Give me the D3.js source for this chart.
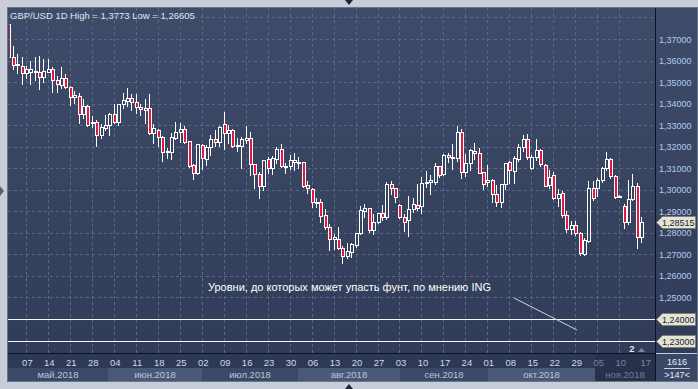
<!DOCTYPE html>
<html>
<head>
<meta charset="utf-8">
<script src="https://cdn.jsdelivr.net/npm/d3@7"></script>
<style>
  body { margin: 0; background: #c7ced9; }
  svg { display: block; font-family: "Liberation Sans", Arial, sans-serif; }
</style>
</head>
<body>
<svg id="chart" width="698" height="389"></svg>
<script>
// GBP/USD daily candles, 1 May 2018 .. 16 Nov 2018 (index = trading bar)
const open = [
  1.3768,1.3618,1.3578,1.3576,1.3541,1.3548,1.3546,1.3548,1.3522,1.3548,
  1.3561,1.3510,1.3486,1.3520,1.3479,1.3429,1.3435,1.3350,1.3390,1.3310,
  1.3313,1.3254,1.3285,1.3301,1.3353,1.3313,1.3397,1.3414,1.3425,1.3409,
  1.3386,1.3370,1.3378,1.3262,1.3278,1.3247,1.3175,1.3173,1.3242,1.3270,
  1.3281,1.3226,1.3115,1.3079,1.3208,1.3141,1.3197,1.3234,1.3223,1.3305,
  1.3262,1.3278,1.3205,1.3205,1.3231,1.3239,1.3118,1.3072,1.3018,1.3141,
  1.3102,1.3143,1.3189,1.3110,1.3112,1.3130,1.3127,1.3130,1.3022,1.3004,
  1.2945,1.2942,1.2883,1.2829,1.2770,1.2770,1.2728,1.2693,1.2713,1.2744,
  1.2798,1.2903,1.2914,1.2811,1.2849,1.2891,1.2872,1.3025,1.3007,1.2929,
  1.2875,1.2860,1.2911,1.2929,1.2925,1.3030,1.3035,1.3038,1.3110,1.3073,
  1.3161,1.3151,1.3146,1.3267,1.3081,1.3126,1.3181,1.3169,1.3084,1.3035,
  1.3045,1.2978,1.2945,1.3025,1.3130,1.3089,1.3143,1.3197,1.3234,1.3100,
  1.3151,1.3185,1.3115,1.3022,1.3069,1.2963,1.2983,1.2883,1.2817,1.2836,
  1.2798,1.2702,1.2764,1.3007,1.3007,1.3045,1.3100,1.3141,1.3064,1.2973,
  1.2926,1.2852,1.2957,1.3018,1.2779
];
const high = [
  1.3773,1.3672,1.3636,1.3622,1.3579,1.3602,1.3622,1.3626,1.3610,1.3613,
  1.3576,1.3533,1.3576,1.3541,1.3486,1.3463,1.3452,1.3425,1.3397,1.3347,
  1.3329,1.3309,1.3350,1.3362,1.3401,1.3404,1.3452,1.3476,1.3448,1.3448,
  1.3401,1.3425,1.3448,1.3309,1.3285,1.3254,1.3200,1.3270,1.3319,1.3316,
  1.3301,1.3231,1.3126,1.3216,1.3216,1.3211,1.3259,1.3282,1.3301,1.3366,
  1.3305,1.3285,1.3247,1.3250,1.3301,1.3273,1.3126,1.3087,1.3141,1.3157,
  1.3161,1.3205,1.3216,1.3130,1.3165,1.3177,1.3155,1.3133,1.3045,1.3012,
  1.2968,1.2960,1.2914,1.2844,1.2801,1.2832,1.2744,1.2759,1.2759,1.2806,
  1.2929,1.2937,1.2922,1.2891,1.2898,1.2934,1.3041,1.3045,1.3012,1.2940,
  1.2891,1.2976,1.2968,1.3030,1.3064,1.3092,1.3073,1.3130,1.3115,1.3169,
  1.3177,1.3219,1.3301,1.3285,1.3169,1.3196,1.3220,1.3200,1.3089,1.3120,
  1.3053,1.3027,1.3030,1.3130,1.3138,1.3161,1.3219,1.3259,1.3265,1.3165,
  1.3239,1.3193,1.3123,1.3095,1.3085,1.3010,1.3000,1.2905,1.2860,1.2860,
  1.2810,1.2780,1.3045,1.3045,1.3061,1.3110,1.3180,1.3150,1.3073,1.2980,
  1.2940,1.3049,1.3079,1.3038,1.2878
];
const low = [
  1.3612,1.3559,1.3541,1.3490,1.3518,1.3490,1.3508,1.3468,1.3502,1.3545,
  1.3455,1.3455,1.3474,1.3471,1.3394,1.3401,1.3309,1.3332,1.3296,1.3293,
  1.3205,1.3239,1.3278,1.3254,1.3309,1.3301,1.3378,1.3390,1.3370,1.3358,
  1.3347,1.3311,1.3258,1.3216,1.3205,1.3134,1.3146,1.3141,1.3234,1.3223,
  1.3219,1.3107,1.3050,1.3073,1.3096,1.3115,1.3161,1.3203,1.3203,1.3189,
  1.3219,1.3200,1.3180,1.3102,1.3216,1.3069,1.3010,1.2960,1.2999,1.3079,
  1.3073,1.3123,1.3104,1.3079,1.3096,1.3092,1.3100,1.3012,1.2987,1.2921,
  1.2921,1.2852,1.2817,1.2720,1.2724,1.2724,1.2661,1.2682,1.2690,1.2736,
  1.2795,1.2872,1.2806,1.2795,1.2844,1.2860,1.2863,1.2980,1.2945,1.2868,
  1.2809,1.2785,1.2898,1.2906,1.2894,1.3012,1.2980,1.3027,1.3058,1.3069,
  1.3130,1.3095,1.3135,1.3056,1.3064,1.3092,1.3141,1.3077,1.3002,1.3018,
  1.2942,1.2925,1.2921,1.3002,1.3030,1.3033,1.3134,1.3181,1.3141,1.3095,
  1.3138,1.3110,1.3018,1.3010,1.2955,1.2925,1.2875,1.2805,1.2795,1.2790,
  1.2696,1.2696,1.2758,1.2953,1.2970,1.3037,1.3092,1.3053,1.2960,1.2966,
  1.2824,1.2841,1.2953,1.2728,1.2759
];
const close = [
  1.3618,1.3579,1.3583,1.3541,1.3559,1.3561,1.3550,1.3525,1.3551,1.3561,
  1.3510,1.3490,1.3520,1.3479,1.3432,1.3440,1.3350,1.3390,1.3301,1.3315,
  1.3254,1.3290,1.3301,1.3350,1.3316,1.3397,1.3415,1.3425,1.3409,1.3383,
  1.3374,1.3381,1.3262,1.3285,1.3247,1.3177,1.3178,1.3244,1.3267,1.3281,
  1.3223,1.3112,1.3079,1.3212,1.3146,1.3200,1.3234,1.3223,1.3293,1.3262,
  1.3278,1.3205,1.3210,1.3236,1.3242,1.3118,1.3072,1.3018,1.3138,1.3102,
  1.3146,1.3189,1.3110,1.3107,1.3138,1.3138,1.3125,1.3018,1.3007,1.2945,
  1.2943,1.2880,1.2826,1.2770,1.2779,1.2728,1.2694,1.2717,1.2748,1.2798,
  1.2906,1.2915,1.2811,1.2849,1.2891,1.2872,1.3025,1.3007,1.2965,1.2872,
  1.2852,1.2909,1.2932,1.2914,1.3033,1.3038,1.3045,1.3110,1.3069,1.3161,
  1.3151,1.3148,1.3267,1.3081,1.3126,1.3185,1.3169,1.3079,1.3025,1.3045,
  1.2980,1.2942,1.3025,1.3126,1.3092,1.3146,1.3197,1.3234,1.3154,1.3154,
  1.3185,1.3118,1.3019,1.3060,1.2963,1.2978,1.2883,1.2817,1.2836,1.2798,
  1.2705,1.2767,1.3007,1.2963,1.3045,1.3100,1.3141,1.3064,1.2968,1.2973,
  1.2852,1.2957,1.3018,1.2779,1.28515
];

const priceTicks = [1.37, 1.36, 1.35, 1.34, 1.33, 1.32, 1.31, 1.30, 1.29, 1.28, 1.27, 1.26, 1.25];
const gridPrices = [1.38, 1.37, 1.36, 1.35, 1.34, 1.33, 1.32, 1.31, 1.30, 1.29, 1.28, 1.27, 1.26, 1.25, 1.24, 1.23];
const ingLevels = [1.24, 1.23];
const lastPrice = 1.28515;

const dayLabels = ["07","14","21","28","04","11","18","25","02","09","16","23","30","06","13",
                   "20","27","03","10","17","24","01","08","15","22","29","05","10","17"];
const dayTickIdx = [4,9,14,19,24,29,34,39,44,49,54,59,64,69,74,
                    79,84,89,94,99,104,109,114,119,124,129,134,139,144.7];
const monthLabels = ["май.2018","июн.2018","июл.2018","авг.2018","сен.2018","окт.2018","ноя.2018"];
const monthStartIdx = [-2, 22.6, 43.9, 65.7, 89, 109.1, 133.4];

const title = "GBP/USD 1D High = 1,3773 Low = 1,26605";
const note = "Уровни, до которых может упасть фунт, по мнению ING";

// ── layout ────────────────────────────────────────────────────────────────
const L = 8, R = 655, T = 8, B = 353, AX = 368, FOOT = 381, W = 698;
const fmt = (v) => d3.format(".5f")(v).replace(".", ",");

const x = d3.scaleLinear().domain([4, 144]).range([26.4, 641.7]);
const y = d3.scaleLinear().domain([1.23, 1.37]).range([340.5, 39]);
const px = (i) => Math.floor(x(i)) + 0.5;
const py = (v) => Math.round(y(v)) + 0.5;

const svg = d3.select("#chart");
const defs = svg.append("defs");
const grad = defs.append("linearGradient").attr("id", "bg").attr("x1", 0).attr("y1", 0).attr("x2", 0).attr("y2", 1);
grad.append("stop").attr("offset", 0).attr("stop-color", "#3f4c69");
grad.append("stop").attr("offset", 1).attr("stop-color", "#303c58");
// plot clip starts a little right of the frame: the first bar is cut by the edge
defs.append("clipPath").attr("id", "plot").append("rect")
  .attr("x", L + 1.5).attr("y", T).attr("width", R - L - 1.5).attr("height", B - T);

// frame backgrounds
svg.append("rect").attr("x", 0).attr("y", 0).attr("width", W).attr("height", 389).attr("fill", "#c7ced9");
svg.append("rect").attr("x", L).attr("y", T).attr("width", W - 1 - L).attr("height", B - T).attr("fill", "url(#bg)");
svg.append("rect").attr("x", L).attr("y", B).attr("width", R - L).attr("height", AX - B).attr("fill", "#2e3a55");

// month bands
const monthEnd = monthStartIdx.slice(1).concat([200]);
const bands = svg.append("g");
monthLabels.forEach((m, k) => {
  const x0 = Math.max(L, Math.round(x(monthStartIdx[k])));
  const x1 = Math.min(R, Math.round(x(monthEnd[k])));
  const last = k === monthLabels.length - 1;
  bands.append("rect").attr("x", x0).attr("y", AX).attr("width", x1 - x0).attr("height", FOOT - AX)
    .attr("fill", last ? "#27314b" : (k % 2 ? "#4a5978" : "#3b4966"));
  bands.append("text").attr("x", (x0 + x1) / 2).attr("y", AX + 9.5)
    .attr("text-anchor", "middle").attr("font-size", 9.5)
    .attr("fill", last ? "#6f7d98" : "#b9c6dc").text(m);
});
// darker day row part under the last month
svg.append("rect").attr("x", Math.round(x(monthStartIdx[6]))).attr("y", B + 1)
  .attr("width", R - Math.round(x(monthStartIdx[6]))).attr("height", AX - B - 1).attr("fill", "#27314b");

// day labels
svg.append("g").selectAll("text").data(dayLabels).join("text")
  .attr("x", (d, k) => x(dayTickIdx[k]) + 1).attr("y", B + 12.5)
  .attr("text-anchor", "middle").attr("font-size", 9.5)
  .attr("fill", (d, k) => dayTickIdx[k] > monthStartIdx[6] ? "#7584a0" : "#ccd8ec")
  .text((d) => d);

// grid
const grid = svg.append("g").attr("stroke", "#5a6988").attr("stroke-width", 1)
  .attr("stroke-dasharray", "3,3").attr("shape-rendering", "crispEdges");
grid.selectAll(".h").data(gridPrices).join("line").attr("class", "h")
  .attr("x1", L).attr("x2", R).attr("y1", (d) => py(d)).attr("y2", (d) => py(d));
grid.selectAll(".v").data(dayTickIdx.slice(0, 28)).join("line").attr("class", "v")
  .attr("x1", (d) => px(d)).attr("x2", (d) => px(d)).attr("y1", T).attr("y2", B);

// candles
const plot = svg.append("g").attr("clip-path", "url(#plot)");
const idx = d3.range(open.length);
plot.append("g").selectAll("line").data(idx).join("line")
  .attr("x1", px).attr("x2", px)
  .attr("y1", (i) => py(high[i])).attr("y2", (i) => py(low[i]))
  .attr("stroke", "#ffffff").attr("shape-rendering", "crispEdges");
plot.append("g").selectAll("rect").data(idx).join("rect")
  .attr("x", (i) => px(i) - 1.5)
  .attr("y", (i) => py(Math.max(open[i], close[i])))
  .attr("width", 3)
  .attr("height", (i) => Math.max(1, py(Math.min(open[i], close[i])) - py(Math.max(open[i], close[i]))))
  .attr("fill", (i) => close[i] < open[i] ? "#e3173f" : "#36435f")
  .attr("stroke", "#ffffff").attr("stroke-width", 1)
  .attr("shape-rendering", "crispEdges");

// ING levels
svg.append("g").selectAll("line").data(ingLevels).join("line")
  .attr("x1", L).attr("x2", R).attr("y1", (d) => py(d)).attr("y2", (d) => py(d))
  .attr("stroke", "#f4f6fa").attr("stroke-width", 1).attr("shape-rendering", "crispEdges");

// annotation
svg.append("text").attr("x", 208).attr("y", 291).attr("font-size", 11).attr("fill", "#ffffff").text(note);
svg.append("line").attr("x1", 514).attr("y1", 298).attr("x2", 577).attr("y2", 330)
  .attr("stroke", "#cfd6e4").attr("stroke-width", 1);

// title
svg.append("text").attr("x", 10).attr("y", 18.5).attr("font-size", 9.5).attr("fill", "#dde4ef").text(title);

// marker "2"
svg.append("text").attr("x", 632).attr("y", 352).attr("text-anchor", "middle")
  .attr("font-size", 9.5).attr("font-weight", "bold").attr("fill", "#dfe6f2").text("2");
svg.append("path").attr("d", "M638,352 L641.5,348 L645,352 Z").attr("fill", "#7d8aa3");

// right axis panel
svg.append("line").attr("x1", R + 0.5).attr("x2", R + 0.5).attr("y1", T).attr("y2", FOOT)
  .attr("stroke", "#0d1220");
svg.append("line").attr("x1", L).attr("x2", R).attr("y1", B + 0.5).attr("y2", B + 0.5).attr("stroke", "#0d1220");
svg.append("g").selectAll("text").data(priceTicks).join("text")
  .attr("x", 659).attr("y", (d) => y(d) + 3.5).attr("font-size", 9).attr("fill", "#b3cbef")
  .text((d) => fmt(d));

const tags = svg.append("g");
[lastPrice, ...ingLevels].forEach((v) => {
  const yc = py(v);
  tags.append("path")
    .attr("d", `M656.5,${yc} L662.5,${yc - 6} L695.5,${yc - 6} L695.5,${yc + 6} L662.5,${yc + 6} Z`)
    .attr("fill", "#e4e4d6").attr("stroke", "#7e8270");
  tags.append("text").attr("x", 662).attr("y", yc + 3.3).attr("font-size", 9).attr("fill", "#1c2233").text(fmt(v));
});

// footer box under right axis
svg.append("rect").attr("x", R + 1).attr("y", B + 1).attr("width", W - R - 2).attr("height", FOOT - B - 1).attr("fill", "#3a4866");
svg.append("text").attr("x", 677).attr("y", 365).attr("text-anchor", "middle").attr("font-size", 9).attr("fill", "#e6ecf6").text("1616");
svg.append("line").attr("x1", 664).attr("x2", 690).attr("y1", 368.5).attr("y2", 368.5).attr("stroke", "#c9d3e4");
svg.append("text").attr("x", 677).attr("y", 377.5).attr("text-anchor", "middle").attr("font-size", 9).attr("fill", "#e6ecf6").text(">147<");

// outer borders and scroll markers
svg.append("rect").attr("x", L - 0.5).attr("y", T - 0.5).attr("width", W - L).attr("height", FOOT - T + 1)
  .attr("fill", "none").attr("stroke", "#6c7689");
svg.append("path").attr("d", "M345,0 L353,0 L349,5 Z").attr("fill", "#1e2536");
svg.append("path").attr("d", "M345,389 L353,389 L349,384 Z").attr("fill", "#1e2536");
svg.append("path").attr("d", "M0,186 L0,196 L4,191 Z").attr("fill", "#59627a");
</script>
</body>
</html>
